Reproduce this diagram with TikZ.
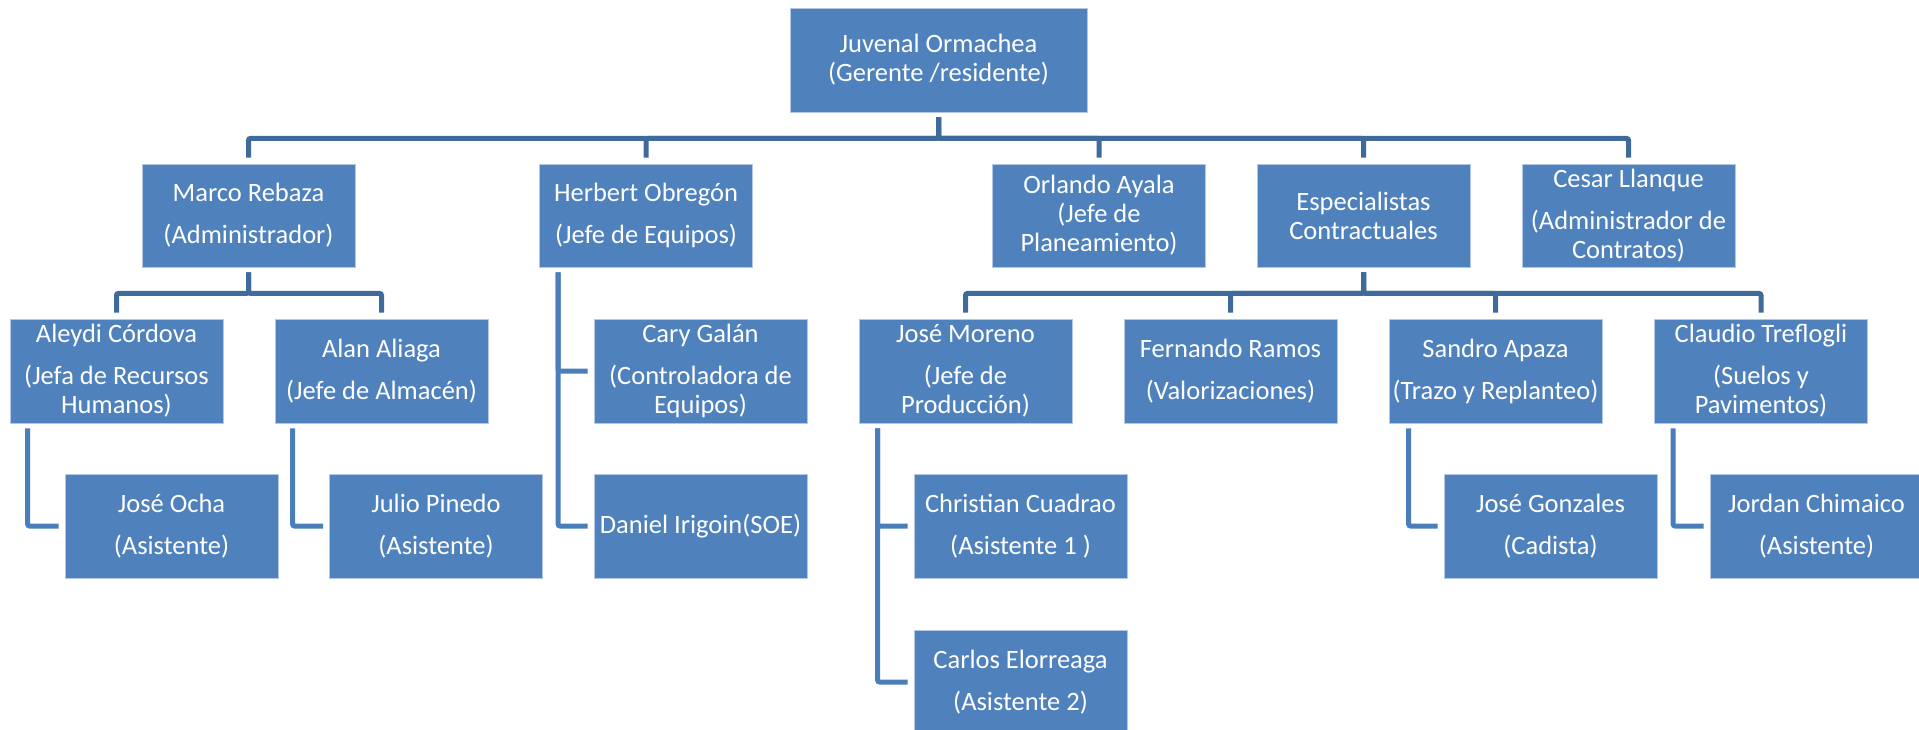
\documentclass[tikz,border=0pt]{standalone}
\usepackage{fontspec}
\setmainfont{Carlito}
\usepackage{tikz}

\definecolor{cajaazul}{HTML}{4F81BD}
\definecolor{bordeazul}{HTML}{B4C7E7}
\definecolor{lineaosc}{HTML}{3F6A9C}
\definecolor{lineacla}{HTML}{4A7EBB}

\begin{document}
\begin{tikzpicture}[x=1pt,y=-1pt,
  caja/.style={fill=cajaazul, draw=bordeazul, line width=0.8pt, text=white,
    align=center, minimum width=213pt, minimum height=104pt, inner sep=0pt,
    font=\fontsize{26.5}{29}\selectfont},
  bus/.style={draw=lineaosc, line width=5pt, rounded corners=2pt,
    shorten <=5pt, shorten >=6pt},
  rama/.style={draw=lineacla, line width=5pt, rounded corners=2pt,
    shorten <=5pt, shorten >=6pt}]
  \useasboundingbox (0,0) rectangle (1919,730);

  \node[caja, minimum width=297pt] (juvenal) at (938.5,60)
    {Juvenal Ormachea\\(Gerente /residente)};

  \node[caja, minimum height=103pt] (marco) at (248.5,215.5)
    {Marco Rebaza\\[13pt](Administrador)};
  \node[caja, minimum height=103pt] (herbert) at (646,215.5)
    {Herbert Obregón\\[13pt](Jefe de Equipos)};
  \node[caja, minimum height=103pt] (orlando) at (1099,215.5)
    {Orlando Ayala\\(Jefe de\\Planeamiento)};
  \node[caja, minimum height=103pt] (espec) at (1363.5,215.5)
    {Especialistas\\Contractuales};
  \node[caja, minimum height=103pt] (cesar) at (1628.5,215.5)
    {Cesar Llanque\\[13pt](Administrador de\\Contratos)};

  \node[caja] (aleydi) at (116.5,371) {Aleydi Córdova\\[13pt](Jefa de Recursos\\Humanos)};
  \node[caja] (alan) at (381.5,371) {Alan Aliaga\\[13pt](Jefe de Almacén)};
  \node[caja] (cary) at (700.5,371) {Cary Galán\\[13pt](Controladora de\\Equipos)};
  \node[caja] (moreno) at (965.5,371) {José Moreno\\[13pt](Jefe de\\Producción)};
  \node[caja] (fernando) at (1230.5,371) {Fernando Ramos\\[13pt](Valorizaciones)};
  \node[caja] (sandro) at (1495.5,371) {Sandro Apaza\\[13pt](Trazo y Replanteo)};
  \node[caja] (claudio) at (1761,371) {Claudio Treflogli\\[13pt](Suelos y\\Pavimentos)};

  \node[caja] (ocha) at (171.5,526) {José Ocha\\[13pt](Asistente)};
  \node[caja] (pinedo) at (436,526) {Julio Pinedo\\[13pt](Asistente)};
  \node[caja] (irigoin) at (700.5,526) {Daniel Irigoin(SOE)};
  \node[caja] (cuadrao) at (1020.5,526) {Christian Cuadrao\\[13pt](Asistente 1 )};
  \node[caja] (gonzales) at (1550.5,526) {José Gonzales\\[13pt](Cadista)};
  \node[caja] (chimaico) at (1816.5,526) {Jordan Chimaico\\[13pt](Asistente)};
  \node[caja] (elorreaga) at (1020.5,682) {Carlos Elorreaga\\[13pt](Asistente 2)};

  \foreach \hijo in {marco,herbert,orlando,espec,cesar}
    \draw[bus] (juvenal.south) -- ++(0,26) -| (\hijo.north);
  \foreach \hijo in {aleydi,alan}
    \draw[bus] (marco.south) -- ++(0,26) -| (\hijo.north);
  \foreach \hijo in {moreno,fernando,sandro,claudio}
    \draw[bus] (espec.south) -- ++(0,26) -| (\hijo.north);

  \draw[rama] ([xshift=18pt]aleydi.south west) |- (ocha.west);
  \draw[rama] ([xshift=18pt]alan.south west) |- (pinedo.west);
  \draw[rama] ([xshift=19pt]herbert.south west) |- (cary.west);
  \draw[rama] ([xshift=19pt]herbert.south west) |- (irigoin.west);
  \draw[rama] ([xshift=19pt]moreno.south west) |- (cuadrao.west);
  \draw[rama] ([xshift=19pt]moreno.south west) |- (elorreaga.west);
  \draw[rama] ([xshift=20pt]sandro.south west) |- (gonzales.west);
  \draw[rama] ([xshift=19pt]claudio.south west) |- (chimaico.west);
\end{tikzpicture}
\end{document}
